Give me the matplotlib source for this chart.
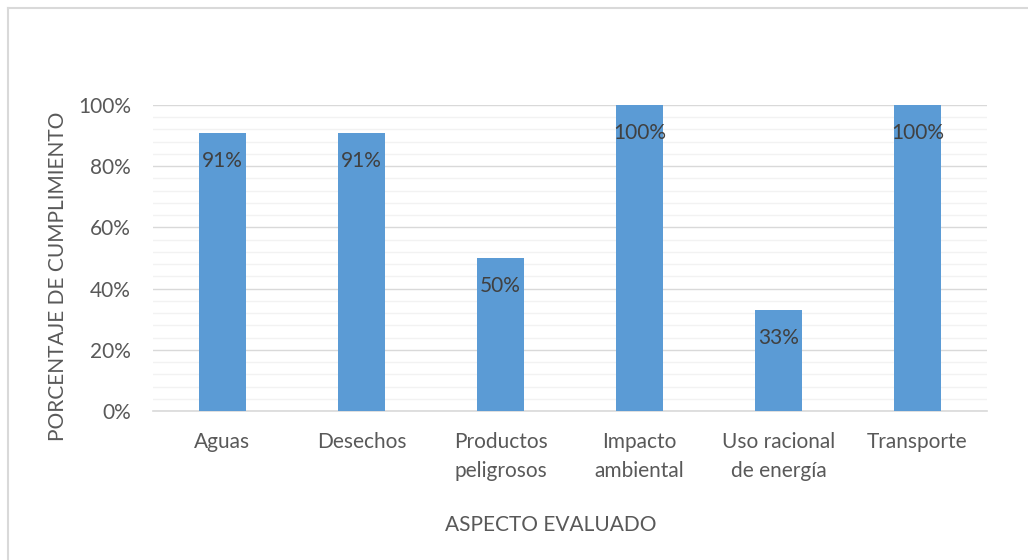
import matplotlib.pyplot as plt
from matplotlib.ticker import MultipleLocator, FuncFormatter
from matplotlib.lines import Line2D

aspectos = ["Aguas", "Desechos", "Productos\npeligrosos", "Impacto\nambiental",
            "Uso racional\nde energía", "Transporte"]
cumplimiento = [0.91, 0.91, 0.50, 1.00, 0.33, 1.00]
etiquetas = ["91%", "91%", "50%", "100%", "33%", "100%"]

plt.rcParams['font.family'] = ['Lato', 'DejaVu Sans']

fig = plt.figure(figsize=(10.28, 5.6), dpi=100)
ax = fig.add_axes([153 / 1028, 1 - 411 / 560, 834 / 1028, 306 / 560])

x = range(len(aspectos))
bars = ax.bar(x, cumplimiento, width=0.34, color="#5b9bd5", zorder=3)

for b, txt in zip(bars, etiquetas):
    ax.annotate(txt, (b.get_x() + b.get_width() / 2, b.get_height()),
                xytext=(0, -28), textcoords="offset pixels",
                ha="center", va="center", fontsize=15, color="#404040", zorder=4)

ax.set_xlim(-0.5, len(aspectos) - 0.5)
ax.set_ylim(0, 1.0)
ax.yaxis.set_major_locator(MultipleLocator(0.2))
ax.yaxis.set_minor_locator(MultipleLocator(0.04))
ax.yaxis.set_major_formatter(FuncFormatter(lambda v, _: f"{v:.0%}"))
ax.grid(axis="y", which="major", color="#d9d9d9", linewidth=1, zorder=0)
ax.grid(axis="y", which="minor", color="#f2f2f2", linewidth=1, zorder=0)

for s in ["top", "right", "left"]:
    ax.spines[s].set_visible(False)
ax.spines["bottom"].set_color("#d9d9d9")
ax.spines["bottom"].set_linewidth(1.2)

ax.set_xticks(list(x))
ax.set_xticklabels(aspectos, linespacing=1.6)
ax.tick_params(axis="both", which="both", length=0, labelsize=15, colors="#595959")
ax.tick_params(axis="x", pad=15)
ax.tick_params(axis="y", pad=16)

# títulos de los ejes
fig.text(58 / 1028, 1 - 276 / 560, "PORCENTAJE DE CUMPLIMIENTO", rotation=90,
         ha="center", va="center", fontsize=15, color="#595959")
fig.text(551 / 1028, 1 - 525 / 560, "ASPECTO EVALUADO", ha="center", va="center",
         fontsize=15, color="#595959")

# marco del área del gráfico
fig.add_artist(Line2D([7.5 / 1028, 7.5 / 1028], [0, 1 - 7.5 / 560], color="#d9d9d9", lw=1.5))
fig.add_artist(Line2D([7.5 / 1028, 1], [1 - 7.5 / 560, 1 - 7.5 / 560], color="#d9d9d9", lw=1.5))

fig.savefig("out.png", dpi=100, facecolor="white")
